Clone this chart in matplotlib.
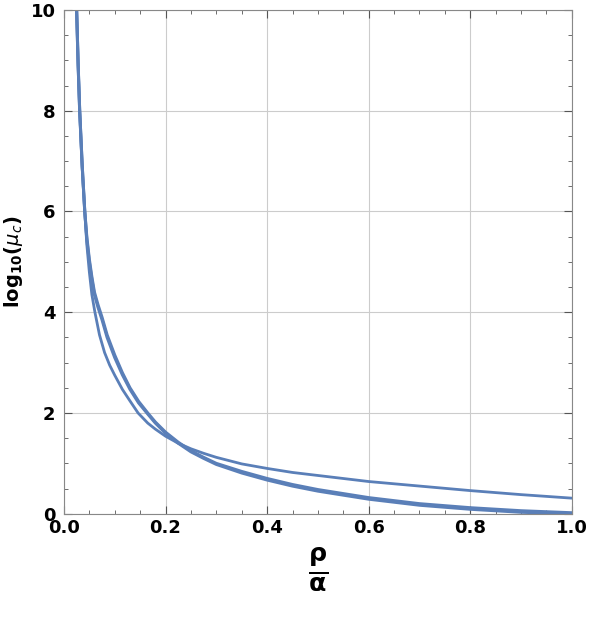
import matplotlib
matplotlib.use("Agg")
import matplotlib.pyplot as plt
from matplotlib.ticker import MultipleLocator

# bundle of nearly coincident curves
x_a = [0.025, 0.028, 0.031, 0.036, 0.041, 0.045, 0.05, 0.055, 0.06, 0.067, 0.075, 0.085, 0.1, 0.115,
       0.13, 0.147, 0.165, 0.18, 0.2, 0.225, 0.25, 0.275, 0.3, 0.35, 0.4, 0.45, 0.5, 0.6, 0.7, 0.8, 0.9, 1.0]
y_a = [10.0, 8.9, 8.0, 6.9, 6.0, 5.5, 5.05, 4.7, 4.4, 4.15, 3.9, 3.55, 3.15, 2.8,
       2.5, 2.23, 2.0, 1.82, 1.62, 1.42, 1.25, 1.12, 1.0, 0.84, 0.7, 0.58, 0.48, 0.32, 0.2, 0.12, 0.06, 0.02]
y_b = [10.0, 8.9, 8.0, 6.9, 6.0, 5.45, 5.0, 4.65, 4.35, 4.1, 3.85, 3.5, 3.1, 2.76,
       2.47, 2.2, 1.98, 1.8, 1.6, 1.4, 1.23, 1.1, 0.98, 0.81, 0.67, 0.55, 0.45, 0.29, 0.17, 0.09, 0.03, 0.0]
# separate curve
x_c = [0.025, 0.028, 0.031, 0.036, 0.041, 0.045, 0.05, 0.055, 0.061, 0.07, 0.08, 0.09, 0.1, 0.115,
       0.13, 0.146, 0.165, 0.18, 0.2, 0.225, 0.25, 0.275, 0.3, 0.35, 0.4, 0.45, 0.5, 0.6, 0.7, 0.8, 0.9, 1.0]
y_c = [10.0, 8.9, 8.0, 6.85, 6.0, 5.35, 4.8, 4.35, 4.0, 3.55, 3.2, 2.95, 2.75, 2.47,
       2.24, 2.0, 1.8, 1.68, 1.54, 1.4, 1.29, 1.2, 1.12, 0.99, 0.9, 0.82, 0.76, 0.64, 0.55, 0.46, 0.38, 0.31]

col = "#5a7fb8"
fig = plt.figure(figsize=(5.92, 6.22), dpi=100)
ax = fig.add_axes([0.108, 0.174, 0.858, 0.81])
ax.plot(x_a, y_a, color=col, lw=2.2)
ax.plot(x_a, y_b, color=col, lw=2.2)
ax.plot(x_c, y_c, color=col, lw=2.0)
ax.set_xlim(0, 1)
ax.set_ylim(0, 10)
ax.set_xticks([0, 0.2, 0.4, 0.6, 0.8, 1.0], ["0.0", "0.2", "0.4", "0.6", "0.8", "1.0"], fontweight="bold")
ax.set_yticks([0, 2, 4, 6, 8, 10], ["0", "2", "4", "6", "8", "10"], fontweight="bold")
ax.xaxis.set_minor_locator(MultipleLocator(0.05))
ax.yaxis.set_minor_locator(MultipleLocator(0.5))
ax.set_xlim(0, 1)
ax.set_ylim(0, 10)
ax.grid(True, which="major", color="#cccccc", lw=0.8)
ax.tick_params(which="both", direction="in", top=True, right=True, color="#555555")
ax.tick_params(which="major", length=6, labelsize=13)
ax.tick_params(which="minor", length=3)
ax.tick_params(axis="x", pad=4)
ax.tick_params(axis="y", pad=6)
for s in ax.spines.values():
    s.set_color("#888888")
ax.set_xlabel(r"$\mathbf{\frac{\rho}{\alpha}}$", fontsize=26, labelpad=6)
ax.set_ylabel(r"$\mathbf{log_{10}(}\boldsymbol{\mu_c}\mathbf{)}$", fontsize=14)
fig.savefig("out.png", dpi=100)
